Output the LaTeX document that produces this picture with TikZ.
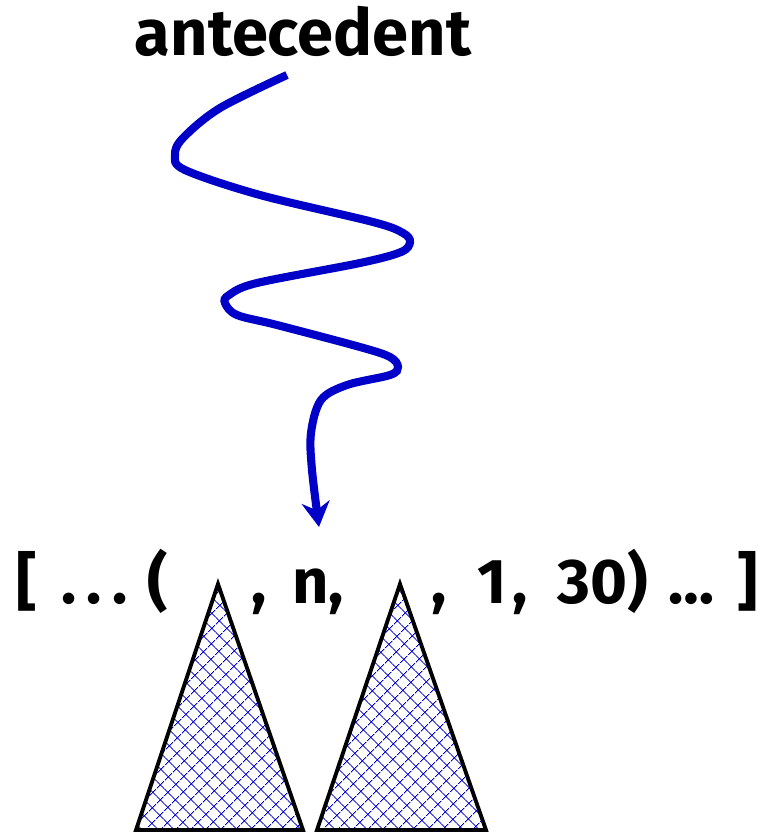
\documentclass[tikz,border=0pt]{standalone}
\usepackage{fontspec}
\setmainfont{Fira Sans}
\usetikzlibrary{arrows.meta, patterns.meta}
\definecolor{wiggleblue}{RGB}{0,0,200}

\begin{document}
\begin{tikzpicture}[
    x=0.02cm, y=0.02cm,
    word/.style={font=\fontsize{36}{42}\selectfont\bfseries, inner sep=0pt},
    wiggle/.style={wiggleblue, line width=4.6pt, -{Stealth[length=0.5cm, width=0.56cm]}},
    subtree/.style={draw=black, line width=2.2pt, line join=miter, pattern={Hatch[angle=45, distance=6.5pt, line width=0.6pt]}, pattern color=wiggleblue},
]
\useasboundingbox (0,0) rectangle (761,-832);

% Labels
\node[word, anchor=base, font=\fontsize{37}{42}\selectfont\bfseries] (antecedent) at (303,-55) {antecedent};
\foreach \x/\t [count=\i] in {16/{[}, 61/{.\kern0.21cm.\kern0.21cm.}, 147/{(}, 251/{,}, 292/{n,}, 431/{,}, 477/{1\kern0.12cm,}, 557/{30)}, 668/{…}, 737/{]}}
    \node[word, anchor=base west] (tok\i) at (\x,-603) {\t};

% Subtrees
\draw[subtree] (218,-584) coordinate (treeA) -- (303,-830) -- (136,-830) -- cycle;
\draw[subtree] (400,-584) coordinate (treeB) -- (486,-830) -- (317,-830) -- cycle;

% Wiggly reference arrow
\coordinate (wstart) at (287,-75);
\coordinate (wend) at (319,-527);
\draw[wiggle] plot[smooth, tension=0.55] coordinates {(wstart) (220,-108) (183,-138) (175,-155)
    (185,-170) (260,-195) (373,-222) (403,-233) (410,-242) (401,-252) (360,-263) (257,-283)
    (229,-295) (225,-303) (237,-315) (277,-325) (360,-347) (390,-357) (398,-367) (390,-375)
    (347,-385) (321,-400) (311,-433) (312,-470) (wend)};

\end{tikzpicture}
\end{document}
